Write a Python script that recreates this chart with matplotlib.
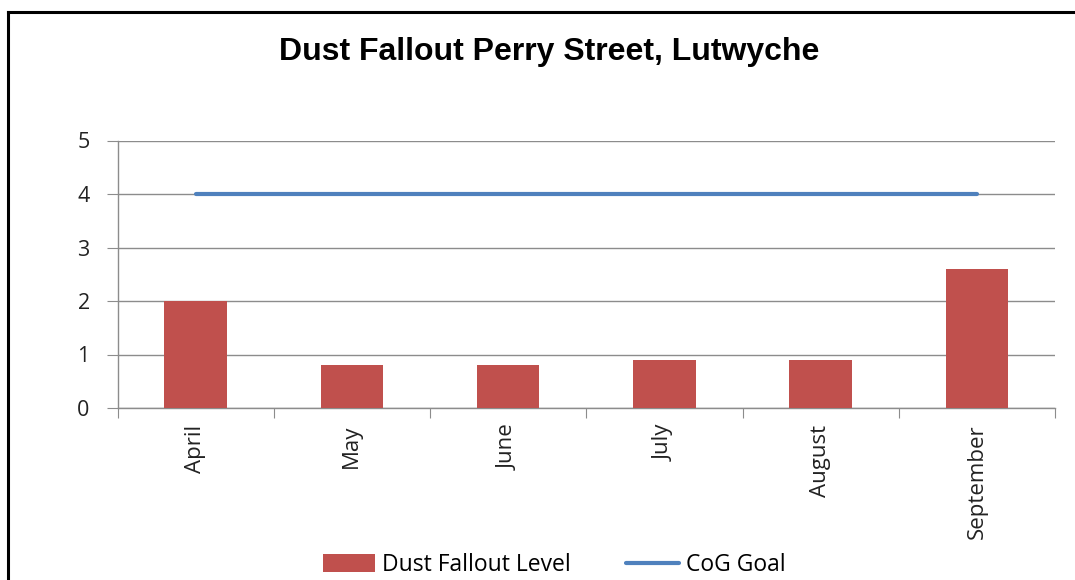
import matplotlib.pyplot as plt
import numpy as np

months = ['April', 'May', 'June', 'July', 'August', 'September']
dust_level = [2.0, 0.8, 0.8, 0.9, 0.9, 2.6]
cog_goal = [4, 4, 4, 4, 4, 4]

bar_color = '#C0504D'
line_color = '#4F81BD'
grid_color = '#8C8C8C'
label_font = ['Open Sans', 'DejaVu Sans']

fig = plt.figure(figsize=(10.75, 5.8), dpi=100)
ax = fig.add_axes([117.5 / 1075, 1 - 408 / 580, (1055 - 117.5) / 1075, (408 - 140.5) / 580])

x = np.arange(len(months))
bars = ax.bar(x, dust_level, width=0.4, color=bar_color, label='Dust Fallout Level', zorder=3)
line, = ax.plot(x, cog_goal, color=line_color, linewidth=3, label='CoG Goal', zorder=4, solid_capstyle='round')

ax.set_xlim(-0.5, len(months) - 0.5)
ax.set_ylim(0, 5)
ax.set_yticks(range(6))
ax.set_yticklabels([str(v) for v in range(6)], fontsize=15.5, family=label_font, color='#222222')
ax.yaxis.grid(True, color=grid_color, linewidth=1, zorder=0)

# categories: ticks sit between bars, labels under bars
ax.set_xticks(np.arange(-0.5, len(months)), minor=False)
ax.set_xticklabels([])
ax.set_xticks(x, minor=True)
ax.set_xticklabels(months, minor=True, rotation=90, fontsize=16, family=label_font, color='#222222')
ax.tick_params(axis='x', which='minor', length=0, pad=12)
ax.tick_params(axis='x', which='major', length=7, color=grid_color, direction='out')
ax.tick_params(axis='y', length=8, color=grid_color, direction='out', pad=12)

for s in ['top', 'right']:
    ax.spines[s].set_visible(False)
for s in ['left', 'bottom']:
    ax.spines[s].set_color(grid_color)
    ax.spines[s].set_linewidth(1)

fig.text(549 / 1075, 1 - 52 / 580, 'Dust Fallout Perry Street, Lutwyche', ha='center', va='center',
         fontsize=23, fontweight='bold', family=['Liberation Sans', 'DejaVu Sans'])

fig.legend([bars, line], ['Dust Fallout Level', 'CoG Goal'], loc='center',
           bbox_to_anchor=(554 / 1075, 1 - 565 / 580), ncol=2, frameon=False,
           prop={'family': label_font, 'size': 16.5}, handlelength=2.3, handleheight=0.8,
           columnspacing=2.4, handletextpad=0.3)

# outer chart border (left and top edges visible)
fig.add_artist(plt.Line2D([8 / 1075, 8 / 1075], [0, 1 - 12 / 580], transform=fig.transFigure, color='black', linewidth=2.2))
fig.add_artist(plt.Line2D([8 / 1075, 1], [1 - 12 / 580, 1 - 12 / 580], transform=fig.transFigure, color='black', linewidth=2.2))

fig.savefig('out.png', dpi=100)
